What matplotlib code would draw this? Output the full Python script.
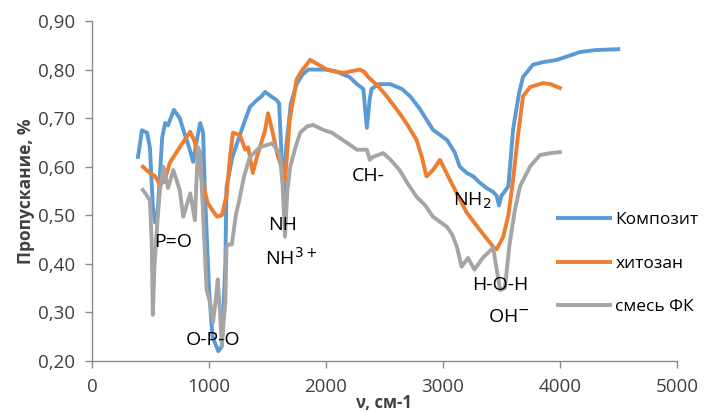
import numpy as np
import matplotlib
matplotlib.use("Agg")
import matplotlib.pyplot as plt

plt.rcParams['font.family'] = ['Open Sans', 'DejaVu Sans']

# ======================================================
# Data
# ======================================================
comp_x = [393, 427, 470, 495, 520, 540, 560, 600, 625, 650, 700, 750, 795, 830, 865,
          900, 925, 950, 965, 1000, 1030, 1080, 1110, 1140, 1150, 1200, 1250, 1300,
          1350, 1400, 1450, 1480, 1530, 1580, 1600, 1625, 1640, 1660, 1700, 1750,
          1800, 1850, 1920, 2000, 2100, 2145, 2200, 2265, 2320, 2350, 2375, 2390,
          2450, 2550, 2650, 2720, 2800, 2915, 3035, 3100, 3145, 3205, 3260, 3315,
          3380, 3430, 3460, 3480, 3500, 3520, 3560, 3600, 3650, 3685, 3720, 3770,
          3850, 3975, 4100, 4170, 4300, 4500]
comp_y = [0.62, 0.675, 0.67, 0.64, 0.52, 0.485, 0.50, 0.66, 0.69, 0.685, 0.717, 0.70,
          0.665, 0.64, 0.61, 0.66, 0.69, 0.67, 0.55, 0.35, 0.25, 0.22, 0.23, 0.40,
          0.558, 0.62, 0.655, 0.69, 0.723, 0.735, 0.745, 0.754, 0.745, 0.737, 0.73,
          0.60, 0.54, 0.64, 0.73, 0.77, 0.79, 0.80, 0.80, 0.80, 0.795, 0.79, 0.785,
          0.77, 0.76, 0.68, 0.74, 0.76, 0.77, 0.77, 0.76, 0.745, 0.72, 0.676, 0.655,
          0.63, 0.60, 0.587, 0.58, 0.567, 0.555, 0.548, 0.54, 0.52, 0.54, 0.546,
          0.56, 0.676, 0.75, 0.785, 0.795, 0.81, 0.815, 0.82, 0.83, 0.836, 0.84, 0.842]

chit_x = [435, 480, 540, 580, 620, 665, 750, 840, 880, 925, 990, 1030, 1070, 1110,
          1150, 1180, 1205, 1265, 1310, 1335, 1375, 1410, 1480, 1505, 1545, 1590,
          1630, 1650, 1690, 1750, 1800, 1835, 1865, 1900, 2010, 2145, 2290, 2330,
          2360, 2450, 2520, 2630, 2700, 2775, 2820, 2860, 2915, 2975, 3060, 3130,
          3205, 3315, 3430, 3460, 3515, 3560, 3600, 3640, 3685, 3745, 3855, 3920, 4000]
chit_y = [0.60, 0.59, 0.58, 0.563, 0.57, 0.608, 0.64, 0.672, 0.65, 0.587, 0.525,
          0.51, 0.497, 0.50, 0.54, 0.62, 0.67, 0.665, 0.635, 0.64, 0.587, 0.62, 0.675,
          0.71, 0.67, 0.62, 0.593, 0.57, 0.696, 0.78, 0.80, 0.81, 0.82, 0.815, 0.80,
          0.793, 0.80, 0.795, 0.785, 0.765, 0.745, 0.71, 0.685, 0.655, 0.62, 0.58,
          0.593, 0.614, 0.573, 0.54, 0.505, 0.47, 0.435, 0.43, 0.455, 0.50, 0.573,
          0.66, 0.745, 0.764, 0.772, 0.77, 0.762]

mix_x = [435, 470, 495, 510, 520, 535, 560, 580, 610, 650, 695, 750, 780, 840, 880,
         905, 925, 950, 980, 1010, 1035, 1060, 1075, 1095, 1110, 1125, 1140, 1150,
         1170, 1195, 1230, 1265, 1300, 1350, 1435, 1540, 1605, 1630, 1650, 1670,
         1695, 1740, 1780, 1840, 1890, 1975, 2050, 2145, 2265, 2350, 2375, 2400,
         2490, 2550, 2630, 2700, 2775, 2850, 2915, 3035, 3080, 3120, 3160, 3215,
         3270, 3340, 3430, 3460, 3490, 3530, 3570, 3615, 3660, 3745, 3830, 3920, 4000]
mix_y = [0.552, 0.54, 0.53, 0.45, 0.295, 0.40, 0.49, 0.55, 0.60, 0.556, 0.593, 0.552,
         0.497, 0.545, 0.49, 0.64, 0.63, 0.50, 0.346, 0.32, 0.28, 0.33, 0.368, 0.30,
         0.23, 0.28, 0.32, 0.435, 0.44, 0.44, 0.50, 0.538, 0.58, 0.62, 0.64, 0.648,
         0.628, 0.56, 0.456, 0.55, 0.60, 0.64, 0.67, 0.683, 0.686, 0.676, 0.67, 0.655,
         0.635, 0.635, 0.614, 0.62, 0.628, 0.615, 0.593, 0.565, 0.538, 0.52, 0.497,
         0.476, 0.46, 0.435, 0.394, 0.412, 0.388, 0.412, 0.433, 0.388, 0.346, 0.35,
         0.44, 0.51, 0.56, 0.60, 0.624, 0.628, 0.63]

series_names = ["Композит", "хитозан", "смесь ФК"]

# band labels: text, x, y
band_text = ["P=O", "O-P-O", "NH", "NH$^{3+}$", "CH-", "NH$_2$", "H-O-H", "OH$^{-}$"]
band_x = [690, 1035, 1630, 1700, 2360, 3250, 3490, 3560]
band_y = [0.445, 0.243, 0.48, 0.412, 0.58, 0.53, 0.357, 0.29]

# ======================================================
# PLOT
# ======================================================
fig = plt.figure(figsize=(7.05, 4.12), dpi=100)
ax = fig.add_axes([0.1305, 0.124, 0.8295, 0.825])

ax.plot(comp_x, comp_y, color="#5B9BD5", lw=2.8, label=series_names[0], solid_joinstyle="round")
ax.plot(chit_x, chit_y, color="#ED7D31", lw=2.8, label=series_names[1], solid_joinstyle="round")
ax.plot(mix_x, mix_y, color="#A5A5A5", lw=2.8, label=series_names[2], solid_joinstyle="round")

for t, x, y in zip(band_text, band_x, band_y):
    ax.text(x, y, t, fontsize=14, ha="center", va="center", color="black")

ax.set_xlim(0, 5000)
ax.set_ylim(0.20, 0.90)
ax.set_xticks(np.arange(0, 5001, 1000))
ax.set_yticks(np.arange(0.20, 0.901, 0.10))
ax.set_yticklabels([f"{v:.2f}".replace(".", ",") for v in np.arange(0.20, 0.901, 0.10)])

for s in ["top", "right"]:
    ax.spines[s].set_visible(False)
for s in ["left", "bottom"]:
    ax.spines[s].set_color("#8C8C8C")
    ax.spines[s].set_linewidth(1.0)
ax.tick_params(colors="#8C8C8C", labelcolor="#404040", labelsize=13.5, length=5, width=1.0, pad=7)

ax.set_xlabel("ν, см-1", fontsize=12, fontweight="bold", color="#404040", labelpad=-1)
ax.set_ylabel("Пропускание, %", fontsize=12.5, fontweight="bold", color="#404040", labelpad=2)

ax.legend(loc="upper left", bbox_to_anchor=(0.776, 0.473), frameon=False, fontsize=12.5,
          handlelength=3.0, labelspacing=1.56, handletextpad=0.3, borderaxespad=0.3)

fig.savefig("out.png", dpi=100)
